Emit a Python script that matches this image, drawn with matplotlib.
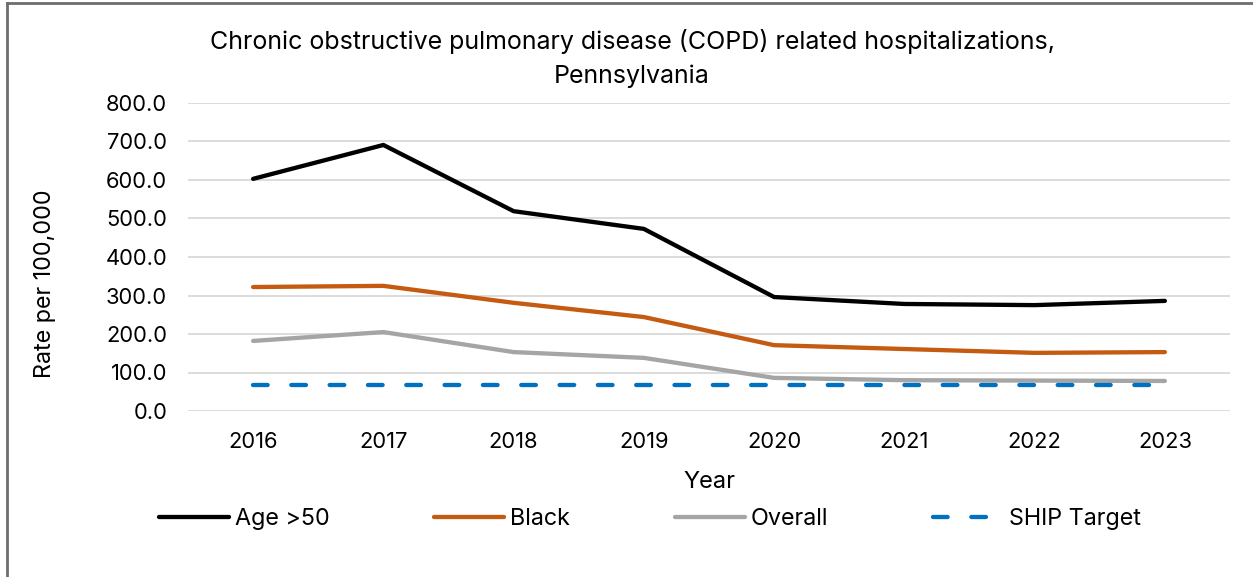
import numpy as np
import matplotlib
matplotlib.use('Agg')
import matplotlib.pyplot as plt
from matplotlib.lines import Line2D

years = ['2016', '2017', '2018', '2019', '2020', '2021', '2022', '2023']
age50 = [603, 691, 519, 473, 296, 278, 275, 286]
black = [322, 325, 281, 244, 171, 161, 151, 153]
overall = [182, 205, 153, 138, 86, 80, 79, 78]
ship_target = [68, 68, 68, 68, 68, 68, 68, 68]

series_names = ['Age >50', 'Black', 'Overall', 'SHIP Target']
yticks = [0, 100, 200, 300, 400, 500, 600, 700, 800]

plt.rcParams['font.family'] = ['Inter', 'DejaVu Sans']

W, H = 1253, 577
fig = plt.figure(figsize=(W / 100, H / 100), dpi=100)
ax = fig.add_axes([188 / W, 1 - 411 / H, (1230 - 188) / W, (411 - 103) / H])

ind = np.arange(len(years))
lw = 3.1
dash = (0, (3.4, 5.5))
ax.plot(ind, age50, color='#000000', lw=lw, solid_capstyle='round', solid_joinstyle='round', zorder=4)
ax.plot(ind, black, color='#C55A11', lw=lw, solid_capstyle='round', solid_joinstyle='round', zorder=3)
ax.plot(ind, overall, color='#A5A5A5', lw=lw, solid_capstyle='round', solid_joinstyle='round', zorder=2)
ax.plot(ind, ship_target, color='#0070C0', lw=lw, linestyle=dash,
        dash_capstyle='round', zorder=5)

ax.set_xlim(-0.5, len(years) - 0.5)
ax.set_ylim(0, 800)
ax.set_yticks(yticks)
ax.set_yticklabels(['%.1f' % v for v in yticks])
ax.set_xticks(ind)
ax.set_xticklabels(years)
ax.yaxis.grid(True, color='#D9D9D9', lw=1.3)
ax.set_axisbelow(True)
for s in ax.spines.values():
    s.set_visible(False)
ax.tick_params(axis='both', length=0, labelsize=15.8)
ax.tick_params(axis='x', pad=15)
ax.tick_params(axis='y', pad=15)

ax.set_xlabel('Year', fontsize=17, labelpad=14)
fig.text(45 / W, 1 - 284 / H, 'Rate per 100,000', rotation=90, fontsize=16.8,
         ha='center', va='center')

fig.text(632 / W, 1 - 42 / H, 'Chronic obstructive pulmonary disease (COPD) related hospitalizations,',
         fontsize=18, ha='center', va='center')
fig.text(632 / W, 1 - 76 / H, 'Pennsylvania', fontsize=18, ha='center', va='center')

handles = [
    Line2D([], [], color='#000000', lw=lw, solid_capstyle='round'),
    Line2D([], [], color='#C55A11', lw=lw, solid_capstyle='round'),
    Line2D([], [], color='#A5A5A5', lw=lw, solid_capstyle='round'),
    Line2D([], [], color='#0070C0', lw=lw, linestyle=dash, dash_capstyle='round'),
]
fig.legend(handles, series_names, loc='center', bbox_to_anchor=(650 / W, 1 - 519 / H),
           ncol=4, frameon=False, fontsize=16.8, handlelength=3.0, handletextpad=0.25,
           columnspacing=4.5)

# frame around the chart
fig.add_artist(Line2D([7 / W, 7 / W], [0, 1 - 3 / H], color='#6E6E6E', lw=2))
fig.add_artist(Line2D([7 / W, 1], [1 - 3 / H, 1 - 3 / H], color='#6E6E6E', lw=2))

fig.savefig('out.png', dpi=100)
plt.close(fig)
